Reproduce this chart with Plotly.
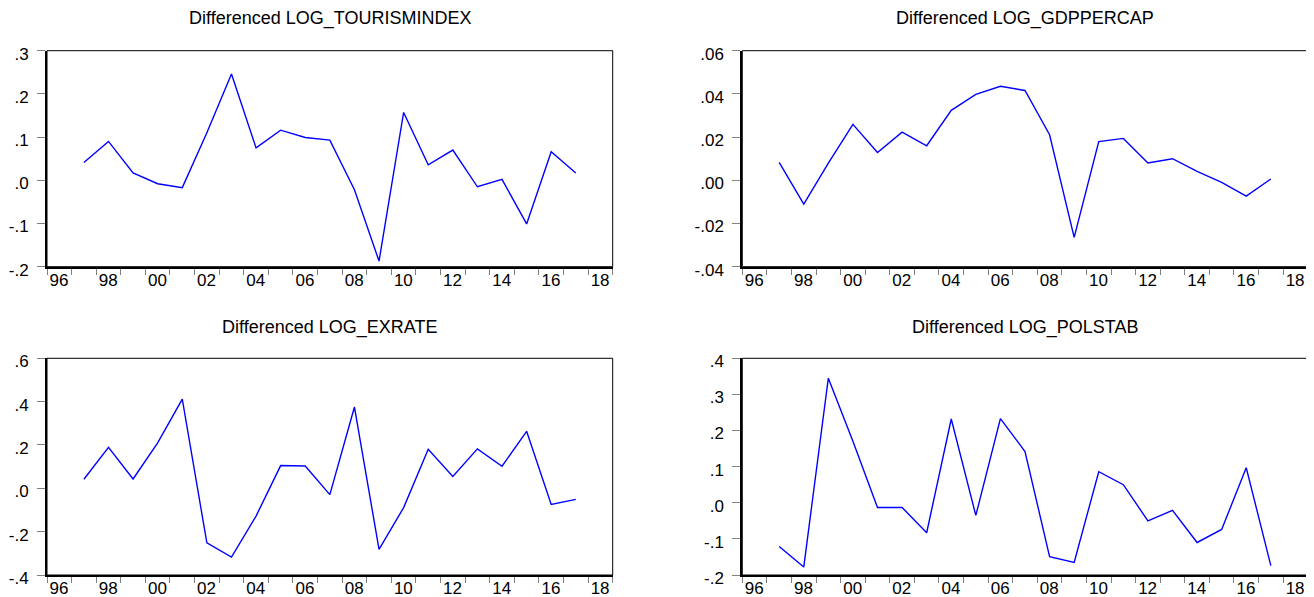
import plotly.graph_objects as go

years = list(range(1997, 2018))

tourism = [0.041, 0.090, 0.017, -0.008, -0.017, 0.11, 0.246, 0.075, 0.116, 0.099, 0.093,
           -0.022, -0.187, 0.157, 0.036, 0.070, -0.015, 0.002, -0.101, 0.066, 0.017]
gdppercap = [0.0083, -0.011, 0.008, 0.0259, 0.0129, 0.0223, 0.016, 0.0324, 0.0398, 0.0435, 0.0416,
             0.0211, -0.0264, 0.0179, 0.0194, 0.008, 0.010, 0.0041, -0.001, -0.0073, 0.0006]
exrate = [0.042, 0.189, 0.043, 0.21, 0.412, -0.252, -0.317, -0.128, 0.105, 0.103, -0.029,
          0.375, -0.282, -0.089, 0.18, 0.055, 0.182, 0.102, 0.263, -0.074, -0.051]
polstab = [-0.121, -0.178, 0.345, 0.17, -0.013, -0.013, -0.083, 0.232, -0.035, 0.233, 0.142,
           -0.149, -0.165, 0.086, 0.050, -0.050, -0.021, -0.110, -0.074, 0.097, -0.174]

titles = ["Differenced LOG_TOURISMINDEX", "Differenced LOG_GDPPERCAP",
          "Differenced LOG_EXRATE", "Differenced LOG_POLSTAB"]

x_major = list(range(1996, 2019, 2))
x_labels = ["96", "98", "00", "02", "04", "06", "08", "10", "12", "14", "16", "18"]
x_minor = list(range(1997, 2020, 2))

y_ticks = [
    ([0.3, 0.2, 0.1, 0.0, -0.1, -0.2], [".3", ".2", ".1", ".0", "-.1", "-.2"], [-0.2, 0.3]),
    ([0.06, 0.04, 0.02, 0.0, -0.02, -0.04], [".06", ".04", ".02", ".00", "-.02", "-.04"], [-0.04, 0.06]),
    ([0.6, 0.4, 0.2, 0.0, -0.2, -0.4], [".6", ".4", ".2", ".0", "-.2", "-.4"], [-0.4, 0.6]),
    ([0.4, 0.3, 0.2, 0.1, 0.0, -0.1, -0.2], [".4", ".3", ".2", ".1", ".0", "-.1", "-.2"], [-0.2, 0.4]),
]
series = [tourism, gdppercap, exrate, polstab]

# page body has an 8px margin: compensate so the chart lands where the reference is
OFF = 8
W, H = 1314 - OFF, 597 - OFF
def px_x(v):
    return (v - OFF) / W
def px_y(v):
    return 1 - (v - OFF) / H

xdoms = [[px_x(47), px_x(612.7)], [px_x(742.3), px_x(1307.7)]]
ydoms = [[px_y(266.7), px_y(50.7)], [px_y(575), px_y(358.3)]]
title_y = [px_y(19), px_y(327)]

FONT = "Liberation Sans, Arial, sans-serif"

fig = go.Figure()
layout = dict(
    width=W, height=H,
    margin=dict(l=0, r=0, t=0, b=0),
    paper_bgcolor="white", plot_bgcolor="white",
    showlegend=False,
    font=dict(family=FONT, color="black"),
    annotations=[], shapes=[],
)

xcenters = [y + 0.5 for y in years]

for i in range(4):
    r, c = divmod(i, 2)
    n = i + 1
    xa = "xaxis" if n == 1 else f"xaxis{n}"
    ya = "yaxis" if n == 1 else f"yaxis{n}"
    xr = "x" if n == 1 else f"x{n}"
    yr = "y" if n == 1 else f"y{n}"
    fig.add_trace(go.Scatter(x=xcenters, y=series[i], mode="lines",
                             line=dict(color="#0000FF", width=1.4),
                             xaxis=xr, yaxis=yr, hoverinfo="skip"))
    tv, tt, rng = y_ticks[i]
    layout[xa] = dict(
        domain=xdoms[c], anchor=yr, range=[1996, 2019],
        tickmode="array", tickvals=x_major, ticktext=x_labels,
        ticks="outside", ticklen=6, tickwidth=1, tickcolor="#808080",
        ticklabelshift=12, ticklabelstandoff=-9,
        minor=dict(tickmode="array", tickvals=x_minor, ticks="outside",
                   ticklen=6, tickwidth=1, tickcolor="#808080", showgrid=False),
        showgrid=False, zeroline=False,
        showline=True, linecolor="black", linewidth=2,
        tickfont=dict(family=FONT, size=17, color="black"),
        automargin=False, fixedrange=True,
    )
    layout[ya] = dict(
        domain=ydoms[r], anchor=xr, range=rng,
        tickmode="array", tickvals=tv, ticktext=tt,
        ticks="outside", ticklen=8, tickwidth=1, tickcolor="#808080",
        ticklabelshift=3, ticklabelstandoff=5,
        showgrid=False, zeroline=False,
        showline=True, linecolor="black", linewidth=2,
        tickfont=dict(family=FONT, size=17, color="black"),
        automargin=False, fixedrange=True,
    )
    layout["shapes"].append(dict(type="rect", xref=f"{xr} domain", yref=f"{yr} domain",
                                 x0=0, x1=1, y0=0, y1=1,
                                 line=dict(color="black", width=1)))
    layout["annotations"].append(dict(
        text=titles[i], xref="paper", yref="paper",
        x=(xdoms[c][0] + xdoms[c][1]) / 2, y=title_y[r],
        xanchor="center", yanchor="middle", showarrow=False,
        font=dict(family=FONT, size=18, color="black"),
    ))

fig.update_layout(**layout)
fig.write_html("out.html")
